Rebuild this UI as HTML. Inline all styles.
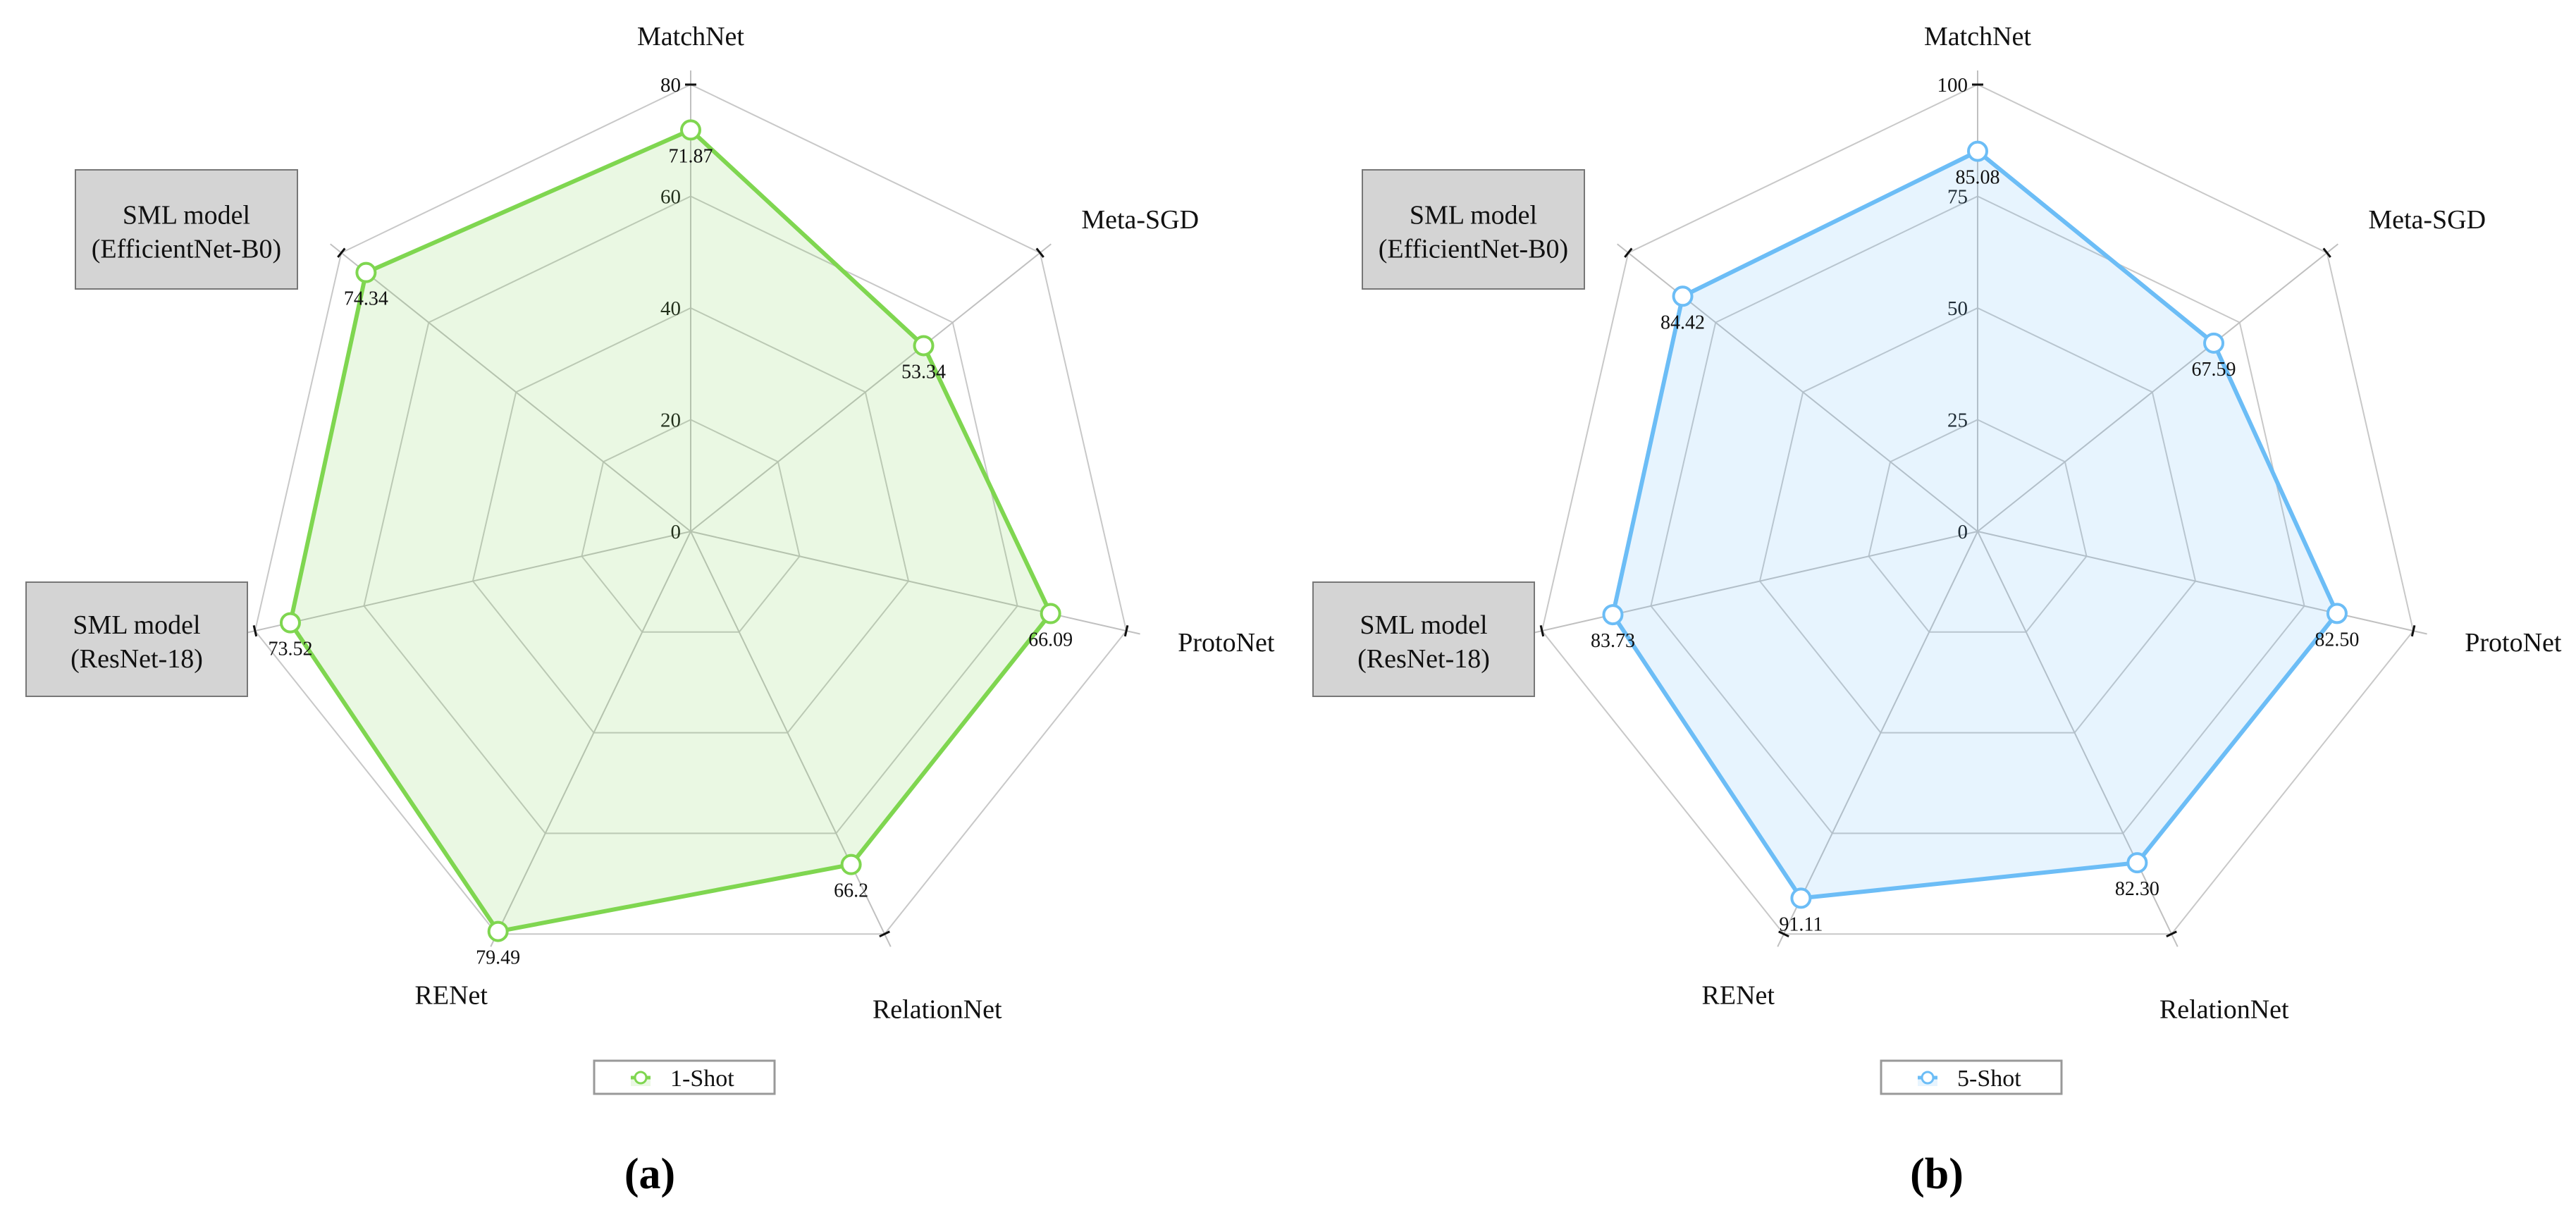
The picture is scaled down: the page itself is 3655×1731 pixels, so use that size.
<!DOCTYPE html>
<html><head><meta charset="utf-8">
<style>
html,body{margin:0;padding:0;background:#fff;}
svg{display:block;font-family:"Liberation Serif",serif;}
</style></head>
<body>
<svg id="chart" width="3655" height="1731" viewBox="0 0 3655 1731" xmlns="http://www.w3.org/2000/svg"></svg>
<script>
const indicators = ["MatchNet","Meta-SGD","ProtoNet","RelationNet","RENet","SML model (ResNet-18)","SML model (EfficientNet-B0)"];
const valuesA = [71.87, 53.34, 66.09, 66.2, 79.49, 73.52, 74.34];
const labelsA = ["71.87","53.34","66.09","66.2","79.49","73.52","74.34"];
const valuesB = [85.08, 67.59, 82.50, 82.30, 91.11, 83.73, 84.42];
const labelsB = ["85.08","67.59","82.50","82.30","91.11","83.73","84.42"];
const ticksA = [0,20,40,60,80];
const ticksB = [0,25,50,75,100];
const seriesNames = ["1-Shot","5-Shot"];
const panelTitles = ["(a)","(b)"];

const NS = "http://www.w3.org/2000/svg";
const svg = document.getElementById("chart");
function mk(tag, attrs, parent){
  const e = document.createElementNS(NS, tag);
  for (const k in attrs) e.setAttribute(k, attrs[k]);
  (parent||svg).appendChild(e);
  return e;
}
const R = 634, N = 7;
function pt(cx, cy, i, r){
  const a = i*2*Math.PI/N;
  return [cx + r*Math.sin(a), cy - r*Math.cos(a)];
}

function drawPanel(cx, cy, values, labels, ticks, color, fill, seriesName, title, prefix){
  const max = ticks[ticks.length-1];
  const g = mk("g", {});
  
  
  // grid rings
  ticks.forEach((t, k) => {
    if (t === 0) return;
    const r = R*t/max;
    const pts = [];
    for (let i=0;i<N;i++) pts.push(pt(cx,cy,i,r).join(","));
    const p = mk("polygon", {points: pts.join(" "), fill:"none", stroke:"#c8c8c8", "stroke-width":2}, g);
    
    
  });
  // axes
  for (let i=0;i<N;i++){
    const e = pt(cx,cy,i,R+20);
    const l = mk("line", {x1:cx, y1:cy, x2:e[0], y2:e[1], stroke:"#c0c0c0", "stroke-width":2}, g);
    
    
    // tick mark at outer ring
    const a = i*2*Math.PI/N;
    const p = pt(cx,cy,i,R);
    const px = Math.cos(a)*8, py = Math.sin(a)*8;
    const tk = mk("line", {x1:p[0]-px, y1:p[1]-py, x2:p[0]+px, y2:p[1]+py, stroke:"#111", "stroke-width":3}, g);
    
    
  }
  // tick labels on first axis
  ticks.forEach(t => {
    const y = cy - R*t/max;
    const tx = mk("text", {x:cx-14, y:y+10, "font-size":29, "text-anchor":"end", fill:"#111"}, g);
    tx.textContent = t;
    
    
  });
  // series area
  const spts = values.map((v,i) => pt(cx,cy,i,R*v/max));
  const poly = mk("polygon", {points: spts.map(p=>p.join(",")).join(" "), fill:fill, stroke:color, "stroke-width":6, "stroke-linejoin":"round"}, g);
  
  
  spts.forEach((p,i) => {
    const c = mk("circle", {cx:p[0], cy:p[1], r:13, fill:"#fff", stroke:color, "stroke-width":4}, g);
    
    
    const t = mk("text", {x:p[0], y:p[1]+46, "font-size":28, "text-anchor":"middle", fill:"#111"}, g);
    t.textContent = labels[i];
    
    
  });
  // axis names (first five as text)
  for (let i=0;i<5;i++){
    let x, y, anchor = "middle";
    if (i === 0){ x = cx; y = cy - R - 56; }
    else if (i === 1 || i === 2){ const p = pt(cx,cy,i,R+75); x = p[0]; y = p[1]+12; anchor = "start"; }
    else { const p = pt(cx,cy,i,R+760-R); x = p[0] + (i===3?20:-10); y = p[1] + (i===3?6:-14); }
    const t = mk("text", {x:x, y:y, "font-size":38, "text-anchor":anchor, fill:"#111"}, g);
    t.textContent = indicators[i];
    
    
  }
  // boxed names
  const boxes = [
    {i:6, x:-873, y:-513, w:315, h:169},
    {i:5, x:-943, y:72, w:314, h:162}
  ];
  boxes.forEach(b => {
    const r = mk("rect", {x:cx+b.x, y:cy+b.y, width:b.w, height:b.h, fill:"#d4d4d4", stroke:"#777", "stroke-width":2}, g);
    
    
    const parts = indicators[b.i].match(/^(SML model) (.*)$/);
    const t1 = mk("text", {x:cx+b.x+b.w/2, y:cy+b.y+b.h/2-8, "font-size":38, "text-anchor":"middle", fill:"#111"}, g);
    t1.textContent = parts[1];
    
    
    const t2 = mk("text", {x:cx+b.x+b.w/2, y:cy+b.y+b.h/2+40, "font-size":38, "text-anchor":"middle", fill:"#111"}, g);
    t2.textContent = parts[2];
    
    
  });
  // legend
  const lg = mk("g", {}, g);
  
  
  const lr = mk("rect", {x:cx-137, y:1505, width:256, height:47, fill:"#fff", stroke:"#999", "stroke-width":3}, lg);
  
  
  const fr = mk("rect", {x:cx-85, y:1529, width:28, height:12, fill:fill}, lg);
  
  
  const ll = mk("line", {x1:cx-85, y1:1529, x2:cx-57, y2:1529, stroke:color, "stroke-width":5}, lg);
  
  
  const lc = mk("circle", {cx:cx-71, cy:1529, r:8, fill:"#fff", stroke:color, "stroke-width":3}, lg);
  
  
  const lt = mk("text", {x:cx-29, y:1541, "font-size":34, fill:"#111"}, lg);
  lt.textContent = seriesName;
  
  
  // panel title
  const tt = mk("text", {x:cx-58, y:1686, "font-size":62, "font-weight":"bold", "text-anchor":"middle", fill:"#000"}, g);
  tt.textContent = title;
  
  
}

drawPanel(980, 754, valuesA, labelsA, ticksA, "#7fd650", "rgba(127,214,80,0.16)", seriesNames[0], panelTitles[0], "one-shot");
drawPanel(2806, 754, valuesB, labelsB, ticksB, "#6cbdf6", "rgba(108,189,246,0.16)", seriesNames[1], panelTitles[1], "five-shot");
</script>
</body></html>
